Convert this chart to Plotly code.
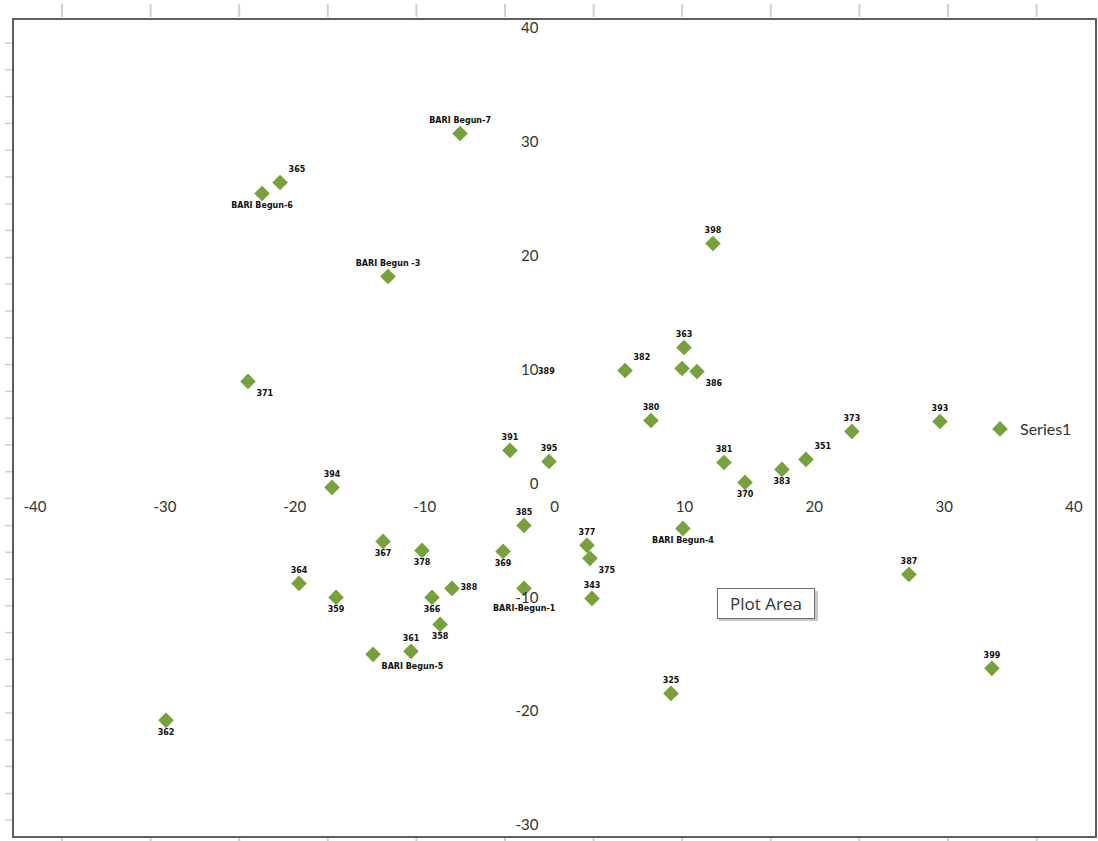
import plotly.graph_objects as go

# Genotype scores on the first two components
names = [
    "BARI Begun-7", "365", "BARI Begun-6", "BARI Begun -3", "398", "371",
    "382", "363", "389", "386", "380", "373", "393", "391", "395", "394",
    "381", "370", "383", "351", "385", "377", "375", "367", "378", "369",
    "BARI Begun-4", "364", "359", "388", "366", "BARI-Begun-1", "343",
    "358", "361", "BARI Begun-5", "387", "399", "325", "362",
]
x_vals = [
    -7.27, -21.13, -22.52, -12.82, 12.20, -23.60,
    5.43, 9.97, 9.82, 10.97, 7.43, 22.90, 29.68, -3.43, -0.42, -17.13,
    13.05, 14.67, 17.51, 19.36, -2.35, 2.50, 2.73, -13.20, -10.20, -3.96,
    9.89, -19.67, -16.82, -7.89, -9.43, -2.35, 2.89,
    -8.81, -11.05, -13.97, 27.29, 33.68, 8.97, -29.91,
]
y_vals = [
    30.73, 26.43, 25.46, 18.17, 21.07, 8.96,
    9.92, 11.94, 10.10, 9.83, 5.53, 4.57, 5.44, 2.90, 1.93, -0.35,
    1.84, 0.09, 1.23, 2.11, -3.69, -5.44, -6.58, -5.09, -5.88, -5.97,
    -3.95, -8.78, -10.01, -9.22, -10.01, -9.22, -10.10,
    -12.38, -14.75, -15.01, -7.99, -16.24, -18.44, -20.81,
]
x_ticks = [-40, -30, -20, -10, 0, 10, 20, 30, 40]
y_ticks = [-30, -20, -10, 0, 10, 20, 30, 40]

# where each data label sits relative to its marker ("none" = placed by hand below)
label_pos = [
    "top center", "top right", "bottom center", "top center", "top center", "bottom right",
    "top right", "top center", "none", "bottom right", "top center", "top center", "top center",
    "top center", "top center", "top center",
    "top center", "bottom center", "bottom center", "top right", "top center", "top center",
    "bottom right", "bottom center", "bottom center", "bottom center",
    "bottom center", "top center", "bottom center", "middle right", "bottom center",
    "none", "top center",
    "bottom center", "top center", "bottom right", "top center", "top center", "top center",
    "bottom center",
]
# labels that were dragged away from their markers
moved_labels = {"389": (-0.65, 9.85), "BARI-Begun-1": (-2.3, -11.0)}

X_RANGE = [-40, 40]
Y_RANGE = [-30, 40]

W, H = 1098, 841
L, R, T, B = 35, 24, 28, 16
PW, PH = W - L - R, H - T - B


def px(xp):
    return (xp - L) / PW


def py(yp):
    return (H - B - yp) / PH


GREEN = "#77a23b"
LABEL_FONT = dict(family="DejaVu Sans", size=8, color="#111111", weight="bold")
AXIS_FONT = dict(family="Lato", size=15, color="#333333")

texts = [n if p != "none" else "" for n, p in zip(names, label_pos)]
positions = [p if p != "none" else "top center" for p in label_pos]

fig = go.Figure()
fig.add_trace(go.Scatter(
    x=x_vals, y=y_vals, mode="markers+text", name="Series1",
    text=texts, textposition=positions, textfont=LABEL_FONT,
    marker=dict(symbol="diamond", size=12, color=GREEN),
    cliponaxis=False, showlegend=True,
))

shapes = []
# worksheet grid ticks peeking around the chart frame
for k in range(12):
    xc = 62 + 88.6 * k
    shapes.append(dict(type="line", xref="paper", yref="paper",
                       x0=px(xc), x1=px(xc), y0=py(4), y1=py(17),
                       line=dict(color="#cfcfcf", width=2), layer="below"))
    shapes.append(dict(type="line", xref="paper", yref="paper",
                       x0=px(xc), x1=px(xc), y0=py(838), y1=py(841),
                       line=dict(color="#cfcfcf", width=2), layer="below"))
yr = 43.0
while yr < 836:
    shapes.append(dict(type="line", xref="paper", yref="paper",
                       x0=px(5), x1=px(12), y0=py(yr), y1=py(yr),
                       line=dict(color="#cfcfcf", width=1.5), layer="below"))
    yr += 26.8
# chart frame
shapes.append(dict(type="rect", xref="paper", yref="paper",
                   x0=px(13), x1=px(1096), y0=py(837), y1=py(19),
                   line=dict(color="#5f5f5f", width=2), fillcolor="rgba(0,0,0,0)"))
# tooltip shadow
shapes.append(dict(type="rect", xref="paper", yref="paper",
                   x0=px(719), x1=px(818), y0=py(621), y1=py(591),
                   line=dict(width=0), fillcolor="rgba(0,0,0,0.22)"))

annotations = [
    dict(x=pos[0], y=pos[1], xref="x", yref="y", text=lab,
         showarrow=False, font=LABEL_FONT, xanchor="center", yanchor="middle")
    for lab, pos in moved_labels.items()
]
annotations.append(
    dict(x=px(766), y=py(603), xref="paper", yref="paper", text="Plot Area",
         showarrow=False, xanchor="center", yanchor="middle",
         font=dict(family="Open Sans", size=17, color="#333333"),
         width=92, height=25, align="center",
         bgcolor="white", bordercolor="#6e6e6e", borderwidth=1, borderpad=2)
)

fig.update_layout(
    width=W, height=H,
    margin=dict(l=L, r=R, t=T, b=B, autoexpand=False),
    paper_bgcolor="white", plot_bgcolor="white",
    shapes=shapes, annotations=annotations,
    xaxis=dict(range=X_RANGE, tickvals=x_ticks, ticktext=[str(v) for v in x_ticks],
               showgrid=False, zeroline=False, showline=False, ticks="",
               anchor="free", position=(0 - Y_RANGE[0]) / (Y_RANGE[1] - Y_RANGE[0]),
               tickfont=AXIS_FONT, ticklabelstandoff=13, fixedrange=True),
    yaxis=dict(range=Y_RANGE, tickvals=y_ticks, ticktext=[str(v) for v in y_ticks],
               showgrid=False, zeroline=False, showline=False, ticks="",
               anchor="free", position=(0 - X_RANGE[0]) / (X_RANGE[1] - X_RANGE[0]),
               tickfont=AXIS_FONT, ticklabelstandoff=16, fixedrange=True),
    legend=dict(x=px(980), y=py(429), xanchor="left", yanchor="middle",
                font=dict(family="Lato", size=16, color="#333333"),
                bgcolor="rgba(0,0,0,0)", itemwidth=30),
    showlegend=True,
)

fig.write_html("out.html")
